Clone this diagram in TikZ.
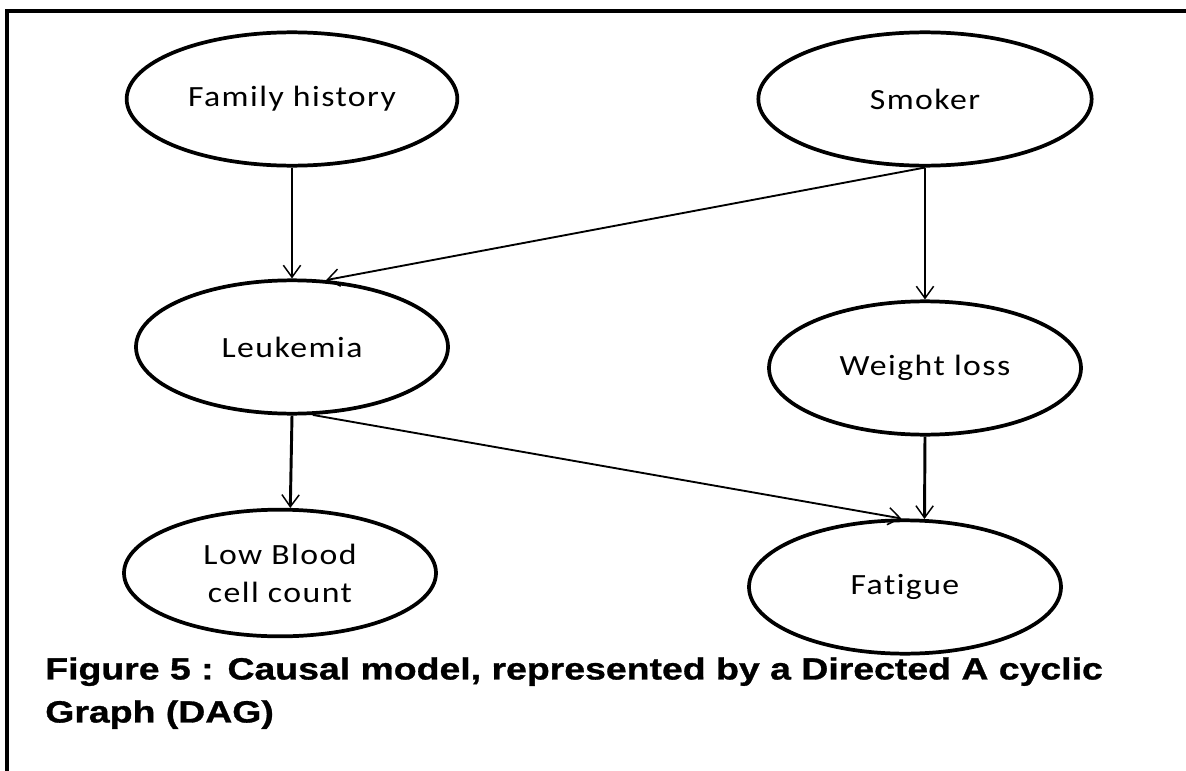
\documentclass[tikz,border=0pt]{standalone}
\usepackage{fontspec}
\setmainfont{Carlito}[FakeStretch=1.15,LetterSpace=5,Ligatures=NoCommon]
\newfontfamily\captionfont{Liberation Sans}[FakeStretch=1.22,FakeBold=1]
\usepackage{tikz}
\usetikzlibrary{shapes.geometric,arrows.meta,positioning}
\tikzset{
        var/.style = {draw, ellipse, line width=2.8pt,
            minimum width=234pt,
            minimum height=100pt,
            align=center,
            font=\fontsize{22}{28.5}\selectfont},
        arrow/.style = {draw, line width=2.2pt,
            -{Straight Barb[length=9pt,width=13pt,line width=1.1pt]}},
        thinarrow/.style = {arrow, line width=1.4pt},
        frame/.style = {line width=3pt},
    }

\begin{document}
\begin{tikzpicture}[x=0.75pt,y=-0.75pt,on grid]
    \useasboundingbox (0,0) rectangle (1186,771);
    \draw[frame] (7,771) -- (7,11) -- (1186,11);

    % causes
    \node[var, minimum width=248pt] (family) at (292,99) {Family history};
    \node[var, minimum width=250pt, right=474.75pt of family] (smoker) {Smoker};
    % middle row
    \node[var, below=186pt of family] (leuk) {Leukemia};
    \node[var, below=201.75pt of smoker] (weight) {Weight loss};
    % effects
    \node[var, minimum height=95pt, below=169.5pt of leuk, xshift=-9pt] (lowblood) {Low Blood\\cell count};
    \node[var, below=164.25pt of weight, xshift=-15pt] (fatigue) {Fatigue};

    \path[arrow] (family.south) -- (leuk.north);
    \path[thinarrow] (smoker.south) -- (leuk.63);
    \path[arrow] (smoker.south) -- (weight.north);
    \path[arrow] (leuk.south) -- (lowblood.81);
    \path[thinarrow] (leuk.-73) -- (fatigue.93);
    \path[arrow] (weight.south) -- (fatigue.74);

    \node[anchor=north west, align=left, inner sep=0pt,
          font=\captionfont\bfseries\fontsize{23}{32.25}\selectfont] (caption) at (45,657)
          {Figure 5 : Causal model, represented by a Directed A cyclic\\Graph (DAG)};
\end{tikzpicture}
\end{document}
